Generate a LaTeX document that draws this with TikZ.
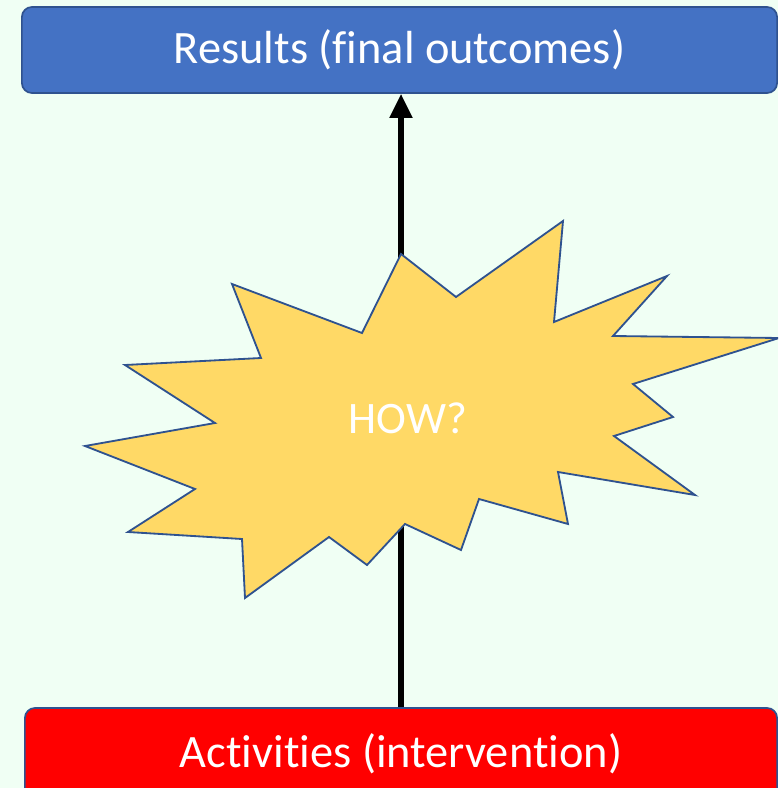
\documentclass[tikz,border=0pt]{standalone}
\usepackage{fontspec}
\setmainfont{Carlito}[Ligatures=NoCommon]
\usepackage{xcolor}
\usepackage{tikz}
\usetikzlibrary{arrows.meta}

\definecolor{bgmint}{RGB}{240,255,244}
\definecolor{resblue}{RGB}{68,114,196}
\definecolor{edgeblue}{RGB}{47,82,143}
\definecolor{burstgold}{RGB}{255,217,102}

\begin{document}
\begin{tikzpicture}[
    x = 0.025cm, y = -0.025cm,
    box/.style = {
        draw=edgeblue, line width=1.2pt, rounded corners=0.25cm,
        text=white, font=\fontsize{33}{40}\selectfont,
        minimum height=2.15cm, inner sep=0pt
    },
    flow/.style = {-{Triangle[length=0.6cm, width=0.55cm]}, line width=3.6pt},
    burst/.style = {draw=edgeblue, fill=burstgold, line width=1.3pt, line join=miter}
  ]
    \clip (0,0) rectangle (778,788);
    \fill[bgmint] (0,0) rectangle (778,788);  % background

    \node[box, fill=resblue, minimum width=18.875cm] (res) at (399.5,50) {Results (final outcomes)};
    \node[box, fill=red, minimum width=18.8cm, minimum height=2.3cm] (act) at (401,754) {Activities (intervention)};

    \draw[flow] (act.north) -- (act.north |- res.south);  % behind the burst

    \draw[burst] (401,254) -- (456,297) -- (563,221) -- (554,322) -- (667,276)
        -- (613,336) -- (779,338) -- (633,384) -- (673,417) -- (614,436)
        -- (695,495) -- (558,472) -- (568,524) -- (479,499) -- (461,550)
        -- (405,524) -- (367,565) -- (329,537) -- (245,598) -- (242,539)
        -- (128,532) -- (195,489) -- (85,446) -- (215,423) -- (125,365)
        -- (261,358) -- (232,284) -- (362,333) -- cycle;
    \node[text=white, font=\fontsize{32}{38}\selectfont] (how) at (408,418) {HOW?};
\end{tikzpicture}
\end{document}
